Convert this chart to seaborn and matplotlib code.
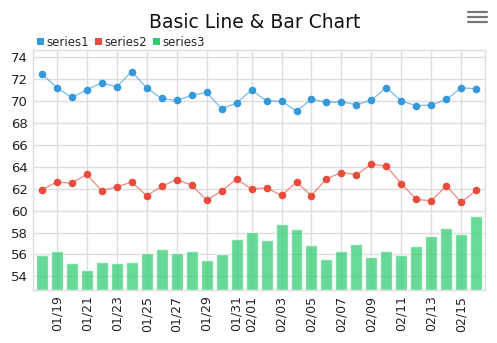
import matplotlib
matplotlib.use("Agg")
import matplotlib.pyplot as plt
import seaborn as sns
import numpy as np
import pandas as pd
from matplotlib.patches import Patch
from matplotlib.lines import Line2D

dates = pd.date_range("2024-01-18", periods=30, freq="D").strftime("%m/%d").tolist()
series1 = [72.48, 71.24, 70.33, 71.03, 71.67, 71.30, 72.70, 71.21, 70.24, 70.06,
           70.52, 70.79, 69.30, 69.82, 71.02, 70.00, 70.00, 69.09, 70.18, 69.88,
           69.94, 69.67, 70.09, 71.24, 70.00, 69.58, 69.64, 70.15, 71.21, 71.12]
series2 = [61.90, 62.60, 62.51, 63.30, 61.81, 62.18, 62.60, 61.36, 62.21, 62.84,
           62.33, 60.96, 61.78, 62.88, 61.96, 62.09, 61.39, 62.60, 61.36, 62.91,
           63.48, 63.27, 64.24, 64.06, 62.45, 61.02, 60.90, 62.27, 60.75, 61.87]
series3 = [55.91, 56.31, 55.19, 54.55, 55.31, 55.25, 55.31, 56.10, 56.49, 56.13,
           56.34, 55.46, 56.04, 57.43, 58.04, 57.34, 58.77, 58.28, 56.83, 55.58,
           56.34, 56.91, 55.76, 56.28, 55.91, 56.76, 57.68, 58.44, 57.89, 59.47]
tick_labels = ["01/19", "01/21", "01/23", "01/25", "01/27", "01/29", "01/31", "02/01",
               "02/03", "02/05", "02/07", "02/09", "02/11", "02/13", "02/15"]
series_names = ["series1", "series2", "series3"]
colors = ["#3498db", "#e74c3c", "#2ecc71"]

sns.set_style("white")
plt.rcParams['font.family'] = ['DejaVu Sans']

fig = plt.figure(figsize=(4.97, 3.43), dpi=100)
ax = fig.add_axes([0.0674, 0.1545, 0.9076, 0.6995])

df = pd.DataFrame({"date": dates, "idx": np.arange(len(dates)),
                   "series1": series1, "series2": series2, "series3": series3})

ymin, ymax = 52.75, 74.66
# bars drawn from the axis bottom
df["bar_h"] = df["series3"] - ymin
sns.barplot(data=df, x="idx", y="bar_h", bottom=ymin, color=colors[2], alpha=0.72,
            width=0.8, ax=ax, saturation=1, zorder=2)
for name, c in zip(series_names[:2], colors[:2]):
    sns.lineplot(data=df, x="idx", y=name, ax=ax, color=c, alpha=0.6, lw=1.0, zorder=3)
    ax.scatter(df["idx"], df[name], s=30, color=c, zorder=4, linewidths=0)

ax.set_xlim(-0.55, 29.55)
ax.set_ylim(ymin, ymax)
ax.set_yticks(np.arange(54, 75, 2))
ax.tick_params(axis="y", labelsize=9.5, length=0, pad=4, labelcolor="#222222")
tick_pos = [dates.index(t) for t in tick_labels]
ax.set_xticks(tick_pos)
ax.set_xticklabels(tick_labels, rotation=90, fontsize=9, color="#222222")
ax.tick_params(axis="x", length=0, pad=4)
ax.set_xlabel("")
ax.set_ylabel("")
ax.grid(True, color="#dddddd", lw=1.0, zorder=0)
ax.set_axisbelow(True)
for s in ax.spines.values():
    s.set_color("#dddddd")
    s.set_linewidth(1.0)

fig.text(0.513, 0.935, "Basic Line & Bar Chart", ha="center", va="center", fontsize=13.5, color="#111111")
handles = [Patch(facecolor=c, edgecolor="none") for c in colors]
leg = fig.legend(handles, series_names, loc="center left", bbox_to_anchor=(0.074, 0.877),
                 ncol=3, frameon=False, fontsize=8.5, handlelength=0.65, handleheight=0.65,
                 handletextpad=0.2, columnspacing=0.45, borderaxespad=0, borderpad=0)
for y in (11.7, 16.7, 21.7):
    fig.add_artist(Line2D([468 / 497, 487 / 497], [1 - y / 343, 1 - y / 343],
                          color="#777777", lw=1.6, transform=fig.transFigure))

fig.savefig("out.png", dpi=100)
